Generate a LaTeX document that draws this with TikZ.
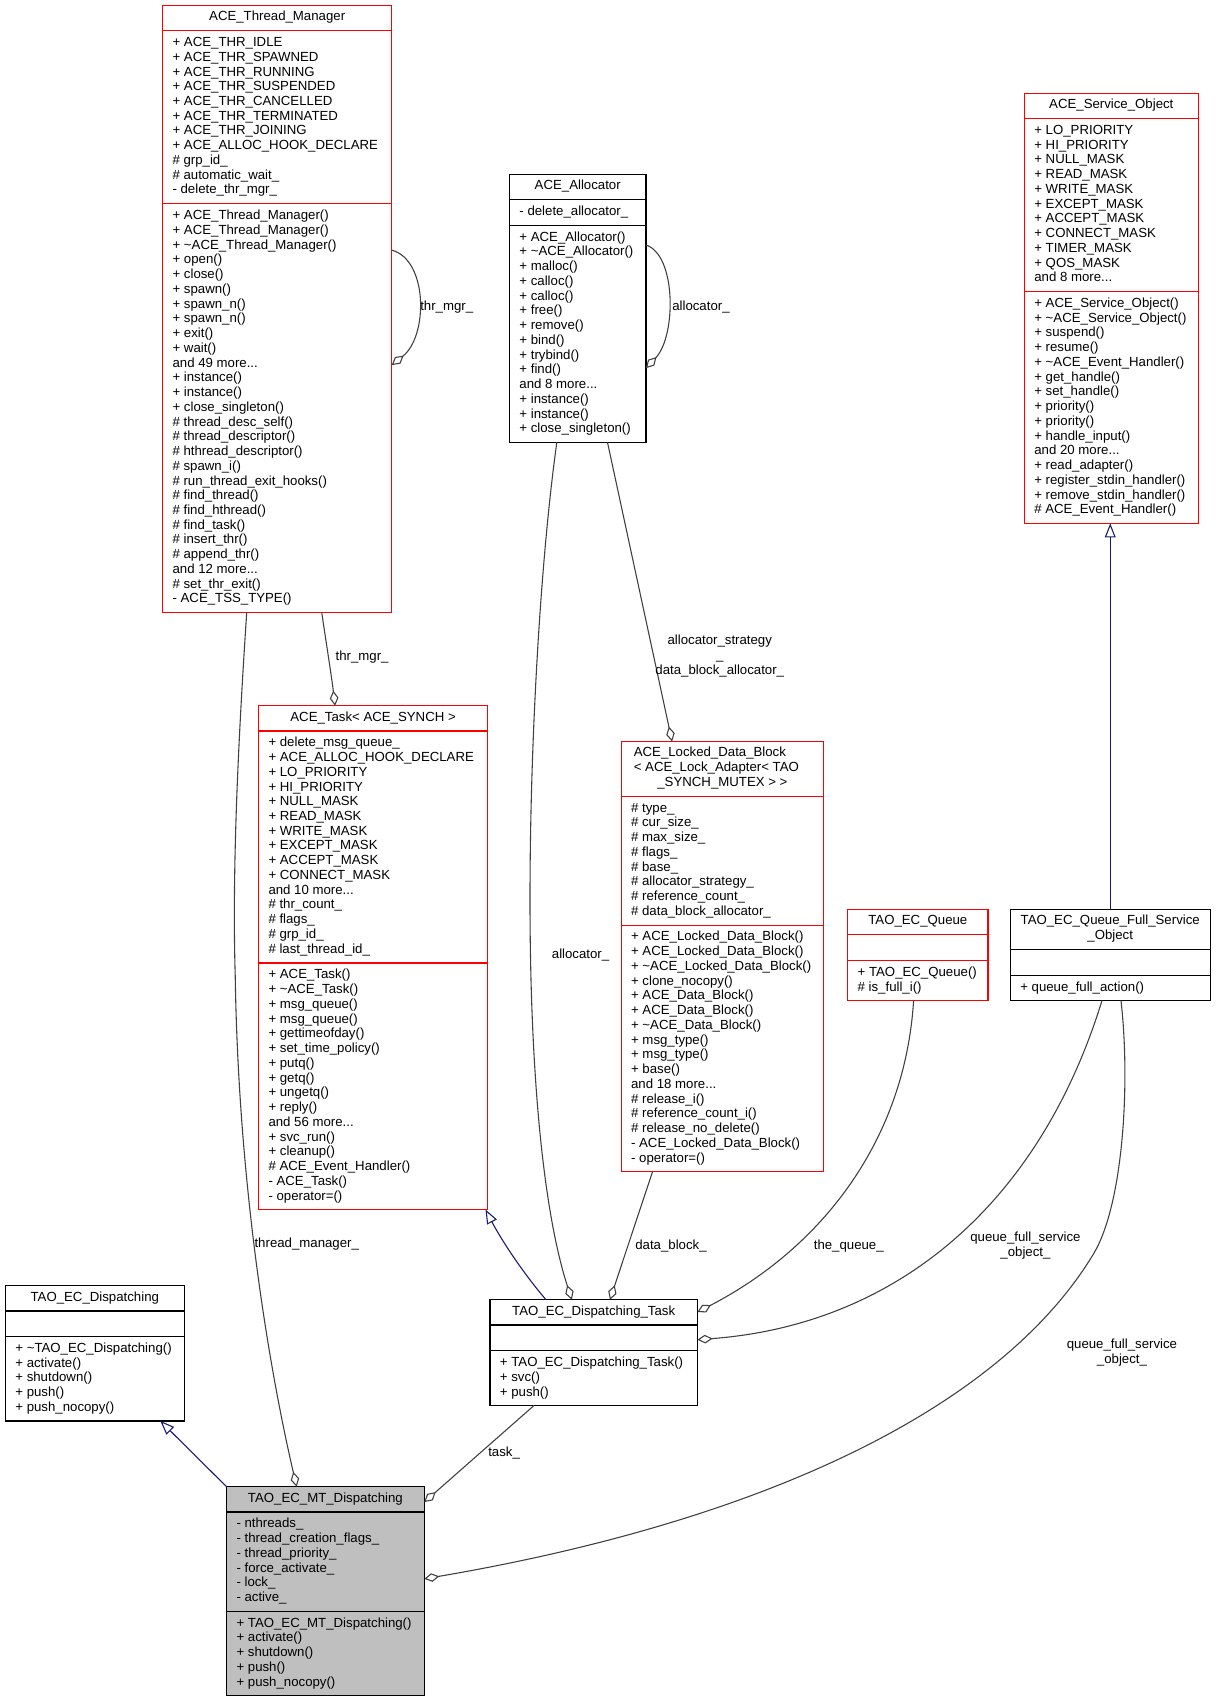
\documentclass[tikz,border=0pt]{standalone}
\usepackage{fontspec}
\setmainfont{Liberation Sans}
\usepackage{array}
\usepackage{colortbl}
\usetikzlibrary{arrows.meta}

\definecolor{edgegray}{HTML}{404040}
\definecolor{inhblue}{HTML}{191970}
\definecolor{boxred}{HTML}{FF0000}
\definecolor{boxgray}{HTML}{BFBFBF}

\setlength{\arrayrulewidth}{1.1pt}
\newcommand{\classtop}{\noalign{\vskip4.5pt}}
\newcommand{\classsep}{\\ \noalign{\vskip4.5pt}\hline\noalign{\vskip4.5pt}}
\newcommand{\classend}{\\ \noalign{\vskip4.5pt}}

\tikzset{
  classbox/.style={inner sep=0pt, anchor=north west, font=\fontsize{12.2}{13.6}\selectfont},
  classframe/.style={line width=1.1pt},
  agg/.style={draw=edgegray, line width=1pt, -{Diamond[open,length=14pt,width=8pt]}},
  inherit/.style={draw=inhblue, line width=1pt, -{Triangle[open,length=13pt,width=10pt]}},
  edgelabel/.style={inner sep=0pt, align=center, font=\fontsize{12.2}{13.6}\selectfont},
}

\begin{document}
\begin{tikzpicture}[x=1pt,y=-1pt]
\useasboundingbox (0,0) rectangle (1122.7,1569.2);

\node (threadmgr) [classbox] at (150,5) {\arrayrulecolor{boxred}%
\begin{tabular}{@{\hspace{9pt}}p{202pt}@{}}
\classtop
\multicolumn{1}{@{}c@{}}{ACE\_Thread\_Manager}
\classsep
+ ACE\_THR\_IDLE\\
+ ACE\_THR\_SPAWNED\\
+ ACE\_THR\_RUNNING\\
+ ACE\_THR\_SUSPENDED\\
+ ACE\_THR\_CANCELLED\\
+ ACE\_THR\_TERMINATED\\
+ ACE\_THR\_JOINING\\
+ ACE\_ALLOC\_HOOK\_DECLARE\\
\# grp\_id\_\\
\# automatic\_wait\_\\
- delete\_thr\_mgr\_
\classsep
+ ACE\_Thread\_Manager()\\
+ ACE\_Thread\_Manager()\\
+ \textasciitilde ACE\_Thread\_Manager()\\
+ open()\\
+ close()\\
+ spawn()\\
+ spawn\_n()\\
+ spawn\_n()\\
+ exit()\\
+ wait()\\
and 49 more...\\
+ instance()\\
+ instance()\\
+ close\_singleton()\\
\# thread\_desc\_self()\\
\# thread\_descriptor()\\
\# hthread\_descriptor()\\
\# spawn\_i()\\
\# run\_thread\_exit\_hooks()\\
\# find\_thread()\\
\# find\_hthread()\\
\# find\_task()\\
\# insert\_thr()\\
\# append\_thr()\\
and 12 more...\\
\# set\_thr\_exit()\\
- ACE\_TSS\_TYPE()
\classend
\end{tabular}};
\draw [classframe, boxred] (threadmgr.north west) rectangle (threadmgr.south east);

\node (allocator) [classbox] at (470,160.8) {\arrayrulecolor{black}%
\begin{tabular}{@{\hspace{9pt}}p{116.5pt}@{}}
\classtop
\multicolumn{1}{@{}c@{}}{ACE\_Allocator}
\classsep
- delete\_allocator\_
\classsep
+ ACE\_Allocator()\\
+ \textasciitilde ACE\_Allocator()\\
+ malloc()\\
+ calloc()\\
+ calloc()\\
+ free()\\
+ remove()\\
+ bind()\\
+ trybind()\\
+ find()\\
and 8 more...\\
+ instance()\\
+ instance()\\
+ close\_singleton()
\classend
\end{tabular}};
\draw [classframe] (allocator.north west) rectangle (allocator.south east);

\node (svcobj) [classbox] at (945,86) {\arrayrulecolor{boxred}%
\begin{tabular}{@{\hspace{9pt}}p{151pt}@{}}
\classtop
\multicolumn{1}{@{}c@{}}{ACE\_Service\_Object}
\classsep
+ LO\_PRIORITY\\
+ HI\_PRIORITY\\
+ NULL\_MASK\\
+ READ\_MASK\\
+ WRITE\_MASK\\
+ EXCEPT\_MASK\\
+ ACCEPT\_MASK\\
+ CONNECT\_MASK\\
+ TIMER\_MASK\\
+ QOS\_MASK\\
and 8 more...
\classsep
+ ACE\_Service\_Object()\\
+ \textasciitilde ACE\_Service\_Object()\\
+ suspend()\\
+ resume()\\
+ \textasciitilde ACE\_Event\_Handler()\\
+ get\_handle()\\
+ set\_handle()\\
+ priority()\\
+ priority()\\
+ handle\_input()\\
and 20 more...\\
+ read\_adapter()\\
+ register\_stdin\_handler()\\
+ remove\_stdin\_handler()\\
\# ACE\_Event\_Handler()
\classend
\end{tabular}};
\draw [classframe, boxred] (svcobj.north west) rectangle (svcobj.south east);

\node (task) [classbox] at (238.5,651) {\arrayrulecolor{boxred}%
\begin{tabular}{@{\hspace{9pt}}p{202pt}@{}}
\classtop
\multicolumn{1}{@{}c@{}}{ACE\_Task< ACE\_SYNCH >}
\classsep
+ delete\_msg\_queue\_\\
+ ACE\_ALLOC\_HOOK\_DECLARE\\
+ LO\_PRIORITY\\
+ HI\_PRIORITY\\
+ NULL\_MASK\\
+ READ\_MASK\\
+ WRITE\_MASK\\
+ EXCEPT\_MASK\\
+ ACCEPT\_MASK\\
+ CONNECT\_MASK\\
and 10 more...\\
\# thr\_count\_\\
\# flags\_\\
\# grp\_id\_\\
\# last\_thread\_id\_
\classsep
+ ACE\_Task()\\
+ \textasciitilde ACE\_Task()\\
+ msg\_queue()\\
+ msg\_queue()\\
+ gettimeofday()\\
+ set\_time\_policy()\\
+ putq()\\
+ getq()\\
+ ungetq()\\
+ reply()\\
and 56 more...\\
+ svc\_run()\\
+ cleanup()\\
\# ACE\_Event\_Handler()\\
- ACE\_Task()\\
- operator=()
\classend
\end{tabular}};
\draw [classframe, boxred] (task.north west) rectangle (task.south east);

\node (ldb) [classbox] at (573,684) {\arrayrulecolor{boxred}%
\begin{tabular}{@{\hspace{9pt}}p{177.5pt}@{}}
\classtop
\multicolumn{1}{@{\hspace{11.5pt}}l@{}}{ACE\_Locked\_Data\_Block}\\
\multicolumn{1}{@{\hspace{11.5pt}}l@{}}{< ACE\_Lock\_Adapter< TAO}\\
\multicolumn{1}{@{}c@{}}{\_SYNCH\_MUTEX > >}
\classsep
\# type\_\\
\# cur\_size\_\\
\# max\_size\_\\
\# flags\_\\
\# base\_\\
\# allocator\_strategy\_\\
\# reference\_count\_\\
\# data\_block\_allocator\_
\classsep
+ ACE\_Locked\_Data\_Block()\\
+ ACE\_Locked\_Data\_Block()\\
+ \textasciitilde ACE\_Locked\_Data\_Block()\\
+ clone\_nocopy()\\
+ ACE\_Data\_Block()\\
+ ACE\_Data\_Block()\\
+ \textasciitilde ACE\_Data\_Block()\\
+ msg\_type()\\
+ msg\_type()\\
+ base()\\
and 18 more...\\
\# release\_i()\\
\# reference\_count\_i()\\
\# release\_no\_delete()\\
- ACE\_Locked\_Data\_Block()\\
- operator=()
\classend
\end{tabular}};
\draw [classframe, boxred] (ldb.north west) rectangle (ldb.south east);

\node (ecq) [classbox] at (782,839) {\arrayrulecolor{boxred}%
\begin{tabular}{@{\hspace{9pt}}p{120pt}@{}}
\classtop
\multicolumn{1}{@{}c@{}}{TAO\_EC\_Queue}
\classsep
\mbox{}
\classsep
+ TAO\_EC\_Queue()\\
\# is\_full\_i()
\classend
\end{tabular}};
\draw [classframe, boxred] (ecq.north west) rectangle (ecq.south east);

\node (qfso) [classbox] at (932,839) {\arrayrulecolor{black}%
\begin{tabular}{@{\hspace{9pt}}p{175pt}@{}}
\classtop
\multicolumn{1}{@{}c@{}}{TAO\_EC\_Queue\_Full\_Service}\\
\multicolumn{1}{@{}c@{}}{\_Object}
\classsep
\mbox{}
\classsep
+ queue\_full\_action()
\classend
\end{tabular}};
\draw [classframe] (qfso.north west) rectangle (qfso.south east);

\node (disp) [classbox] at (5,1186) {\arrayrulecolor{black}%
\begin{tabular}{@{\hspace{9pt}}p{155.5pt}@{}}
\classtop
\multicolumn{1}{@{}c@{}}{TAO\_EC\_Dispatching}
\classsep
\mbox{}
\classsep
+ \textasciitilde TAO\_EC\_Dispatching()\\
+ activate()\\
+ shutdown()\\
+ push()\\
+ push\_nocopy()
\classend
\end{tabular}};
\draw [classframe] (disp.north west) rectangle (disp.south east);

\node (dtask) [classbox] at (452,1199) {\arrayrulecolor{black}%
\begin{tabular}{@{\hspace{9pt}}p{182pt}@{}}
\classtop
\multicolumn{1}{@{}c@{}}{TAO\_EC\_Dispatching\_Task}
\classsep
\mbox{}
\classsep
+ TAO\_EC\_Dispatching\_Task()\\
+ svc()\\
+ push()
\classend
\end{tabular}};
\draw [classframe] (dtask.north west) rectangle (dtask.south east);

\node (mtdisp) [classbox, fill=boxgray] at (209,1371.5) {\arrayrulecolor{black}%
\begin{tabular}{@{\hspace{9pt}}p{173pt}@{}}
\classtop
\multicolumn{1}{@{}c@{}}{TAO\_EC\_MT\_Dispatching}
\classsep
- nthreads\_\\
- thread\_creation\_flags\_\\
- thread\_priority\_\\
- force\_activate\_\\
- lock\_\\
- active\_
\classsep
+ TAO\_EC\_MT\_Dispatching()\\
+ activate()\\
+ shutdown()\\
+ push()\\
+ push\_nocopy()
\classend
\end{tabular}};
\draw [classframe] (mtdisp.north west) rectangle (mtdisp.south east);

% self references
\draw [agg] ([yshift=-225.7pt]threadmgr.north east) .. controls (395,240) and (395,310) .. ([yshift=-331.8pt]threadmgr.north east);
\node [edgelabel, anchor=west] (lblthrself) at (387.5,283) {thr\_mgr\_};
\draw [agg] ([yshift=-65.2pt]allocator.north east) .. controls (624,235) and (624,310) .. ([yshift=-178.8pt]allocator.north east);
\node [edgelabel, anchor=west] (lblallocself) at (620,283) {allocator\_};

% aggregations
\draw [agg] ([xshift=146.8pt]threadmgr.south west) .. controls (302,600) and (306,625) .. ([xshift=70.6pt]task.north west);
\node [edgelabel] (lblthrmgr) at (334,606) {thr\_mgr\_};
\draw [agg] ([xshift=77.6pt]threadmgr.south west) .. controls (220,680) and (214,800) .. (217,900) .. controls (220,1100) and (250,1270) .. ([xshift=64.7pt]mtdisp.north west);
\node [edgelabel] (lblthreadmgr) at (283,1148) {thread\_manager\_};
\draw [agg] ([xshift=43.7pt]allocator.south west) .. controls (498,520) and (488,700) .. (489,850) .. controls (490,1000) and (502,1120) .. ([xshift=75.5pt]dtask.north west);
\node [edgelabel] (lblalloc) at (535.6,881) {allocator\_};
\draw [agg] ([xshift=90.4pt]allocator.south west) -- ([xshift=47pt]ldb.north west);
\node [edgelabel] (lblallocstrat) at (664,605) {allocator\_strategy\\\_\\data\_block\_allocator\_};
\draw [agg] ([xshift=29pt]ldb.south west) -- ([xshift=110.7pt]dtask.north west);
\node [edgelabel] (lbldatablock) at (619,1149) {data\_block\_};
\draw [agg] ([xshift=60.8pt]ecq.south west) .. controls (835,1050) and (760,1150) .. ([yshift=-11.4pt]dtask.north east);
\node [edgelabel] (lblqueue) at (783,1149.5) {the\_queue\_};
\draw [agg] ([xshift=84.6pt]qfso.south west) .. controls (959,1110) and (828,1222) .. ([yshift=-36.9pt]dtask.north east);
\node [edgelabel] (lblqfsotask) at (946,1149) {queue\_full\_service\\\_object\_};
\draw [agg] ([xshift=102.1pt]qfso.south west) .. controls (1043,1000) and (1036,1111.5) .. (1008.9,1156.5) .. controls (924.2,1297.5) and (708.4,1402.4) .. ([yshift=-85pt]mtdisp.north east);
\node [edgelabel] (lblqfsomt) at (1035,1248) {queue\_full\_service\\\_object\_};
\draw [agg] ([xshift=40.6pt]dtask.south west) -- ([yshift=-14.2pt]mtdisp.north east);
\node [edgelabel] (lbltask) at (465,1340) {task\_};

% inheritance
\draw [inherit] (mtdisp.north west) -- ([xshift=-22pt]disp.south east);
\draw [inherit] ([xshift=51.7pt]dtask.north west) .. controls (482.5,1174.3) and (462.4,1143.7) .. ([xshift=-2pt]task.south east);
\draw [inherit] (qfso.north) -- (qfso.north |- svcobj.south);
\end{tikzpicture}
\end{document}
